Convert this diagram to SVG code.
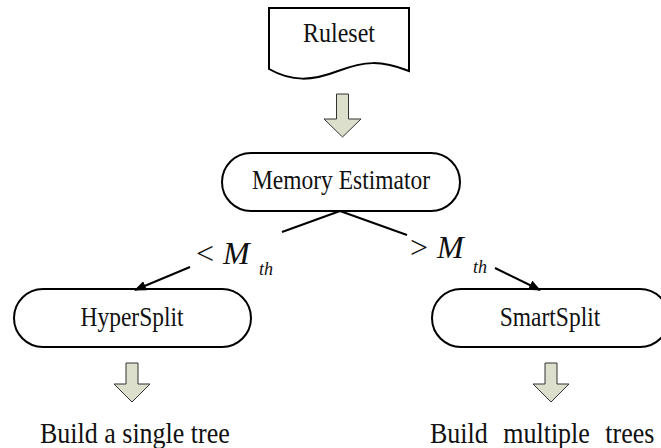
<svg xmlns="http://www.w3.org/2000/svg" width="661" height="448" viewBox="0 0 661 448">
  <style>
    .box { fill: #ffffff; stroke: #000000; stroke-width: 2; }
    .lbl { font-family: "Liberation Serif", "Times New Roman", serif; font-size: 23.5px; fill: #111111; text-anchor: middle; }
    .out { font-family: "Liberation Serif", "Times New Roman", serif; font-size: 26px; fill: #111111; }
    .math { font-family: "Liberation Serif", "Times New Roman", serif; fill: #111111; }
    .blk { fill: #dcdfcc; stroke: #333333; stroke-width: 1; stroke-linejoin: miter; }
    .edge { stroke: #000000; stroke-width: 2; fill: none; }
  </style>
  <defs>
    <marker id="head" viewBox="0 0 12 10" refX="11" refY="5" markerWidth="12" markerHeight="10" markerUnits="userSpaceOnUse" orient="auto">
      <path d="M0,0 L12,5 L0,10 Z" fill="#000000"/>
    </marker>
  </defs>

  <!-- input document -->
  <g id="ruleset">
    <path class="box" d="M269,8 H409 V71 C380,60 365,61 338,71 C312,81 292,82 269,69 Z"/>
    <text class="lbl" transform="translate(339,42) scale(1,1.12)" style="font-size:24px">Ruleset</text>
  </g>

  <!-- block arrows -->
  <g id="flow-arrows">
    <polygon class="blk" points="336.5,94 348.5,94 348.5,119 361,119 342.5,137 324,119 336.5,119"/>
    <polygon class="blk" points="126,363 138,363 138,384 150,384 132,402 114,384 126,384"/>
    <polygon class="blk" points="545,363 557,363 557,384 569,384 551,402 533,384 545,384"/>
  </g>

  <g id="estimator">
    <rect class="box" x="222" y="153" width="238" height="58" rx="29" ry="29"/>
    <text class="lbl" transform="translate(341,189) scale(1,1.12)">Memory Estimator</text>
  </g>

  <g id="hypersplit">
    <rect class="box" x="14" y="289" width="237" height="58" rx="29" ry="29"/>
    <text class="lbl" transform="translate(132,326) scale(1,1.12)">HyperSplit</text>
  </g>

  <g id="smartsplit">
    <rect class="box" x="432" y="289" width="237" height="58" rx="29" ry="29"/>
    <text class="lbl" transform="translate(550,326) scale(1,1.12)">SmartSplit</text>
  </g>

  <!-- branch connectors -->
  <g id="connectors">
    <line class="edge" x1="340" y1="211" x2="282" y2="232"/>
    <line class="edge" x1="340" y1="211" x2="407" y2="235"/>
    <line class="edge" x1="190" y1="267" x2="135" y2="290" marker-end="url(#head)"/>
    <line class="edge" x1="495" y1="268" x2="540" y2="290" marker-end="url(#head)"/>
  </g>

  <!-- threshold labels -->
  <g id="threshold-labels">
    <text class="math" x="196" y="264" font-size="32">&lt;</text>
    <text class="math" x="223" y="264" font-size="32" font-style="italic">M</text>
    <text class="math" x="259" y="275" font-size="18" font-style="italic">th</text>
    <text class="math" x="410" y="258" font-size="32">&gt;</text>
    <text class="math" x="437" y="258" font-size="32" font-style="italic">M</text>
    <text class="math" x="473" y="273" font-size="18" font-style="italic">th</text>
  </g>

  <!-- outcomes -->
  <g id="outcomes">
    <text class="out" transform="translate(40,443) scale(1,1.14)">Build a single tree</text>
    <text class="out" transform="translate(430,443) scale(1,1.14)" word-spacing="9">Build multiple trees</text>
  </g>
</svg>
